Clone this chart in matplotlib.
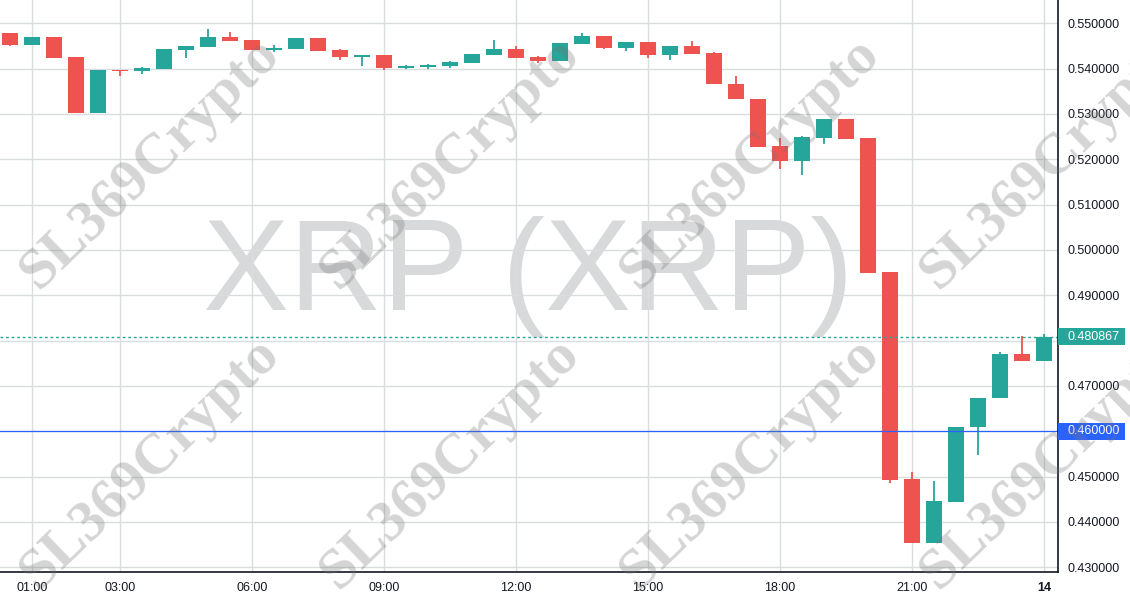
import matplotlib
matplotlib.use("Agg")
import matplotlib.pyplot as plt
from matplotlib.patches import Rectangle
from matplotlib.transforms import blended_transform_factory
import numpy as np

# ---- data (30-minute candles, 00:30 -> 24:00) ----
opens = [0.5479, 0.5453, 0.5470, 0.5426, 0.5303, 0.5397, 0.5395, 0.5399, 0.5442, 0.5448,
         0.5470, 0.5463, 0.5441, 0.5443, 0.5468, 0.5441, 0.5426, 0.5430, 0.5401, 0.5404,
         0.5406, 0.5412, 0.5430, 0.5443, 0.5426, 0.5417, 0.5454, 0.5472, 0.5446, 0.5459,
         0.5430, 0.5450, 0.5435, 0.5366, 0.5333, 0.5229, 0.5197, 0.5248, 0.5289, 0.5247,
         0.4951, 0.4495, 0.4354, 0.4445, 0.4610, 0.4674, 0.4771, 0.4756]
highs = [0.5479, 0.5470, 0.5470, 0.5426, 0.5397, 0.5397, 0.5404, 0.5443, 0.5450, 0.5487,
         0.5481, 0.5463, 0.5452, 0.5468, 0.5468, 0.5443, 0.5430, 0.5430, 0.5408, 0.5410,
         0.5417, 0.5432, 0.5463, 0.5450, 0.5428, 0.5457, 0.5479, 0.5472, 0.5459, 0.5459,
         0.5450, 0.5461, 0.5437, 0.5384, 0.5333, 0.5247, 0.5251, 0.5289, 0.5289, 0.5247,
         0.4951, 0.4511, 0.4491, 0.4610, 0.4674, 0.4776, 0.4811, 0.4815]
lows = [0.5451, 0.5453, 0.5424, 0.5303, 0.5303, 0.5384, 0.5389, 0.5399, 0.5424, 0.5448,
        0.5461, 0.5441, 0.5437, 0.5443, 0.5439, 0.5419, 0.5406, 0.5397, 0.5399, 0.5399,
        0.5401, 0.5412, 0.5430, 0.5424, 0.5412, 0.5417, 0.5454, 0.5443, 0.5439, 0.5424,
        0.5419, 0.5432, 0.5365, 0.5332, 0.5228, 0.5179, 0.5166, 0.5234, 0.5245, 0.4950,
        0.4487, 0.4354, 0.4354, 0.4445, 0.4548, 0.4674, 0.4756, 0.4756]
closes = [0.5453, 0.5470, 0.5424, 0.5303, 0.5397, 0.5395, 0.5401, 0.5443, 0.5450, 0.5470,
          0.5461, 0.5441, 0.5446, 0.5468, 0.5439, 0.5426, 0.5430, 0.5401, 0.5406, 0.5408,
          0.5415, 0.5432, 0.5443, 0.5424, 0.5417, 0.5457, 0.5472, 0.5446, 0.5459, 0.5430,
          0.5450, 0.5432, 0.5365, 0.5332, 0.5228, 0.5197, 0.5249, 0.5289, 0.5245, 0.4950,
          0.4493, 0.4354, 0.4447, 0.4610, 0.4674, 0.4771, 0.4756, 0.480867]

time_tick_idx = [1, 5, 11, 17, 23, 29, 35, 41, 47]
time_tick_labels = ["01:00", "03:00", "06:00", "09:00", "12:00", "15:00", "18:00", "21:00", "14"]
price_ticks = [0.43, 0.44, 0.45, 0.46, 0.47, 0.48, 0.49, 0.50, 0.51, 0.52, 0.53, 0.54, 0.55]
last_price = 0.480867
marker_price = 0.46
title_text = "XRP (XRP)"
watermark = "SL369Crypto"

UP = "#26a69a"
DOWN = "#ef5350"
BLUE = "#2962ff"
GRID = "#d9dde0"
AXIS = "#131722"

W, H = 1130, 600
fig = plt.figure(figsize=(W / 100, H / 100), dpi=100)
fig.patch.set_facecolor("white")
ax = fig.add_axes([0, 28 / H, 1058 / W, 1 - 28 / H])
ax.set_facecolor("white")

n = len(opens)
x = np.arange(n)
o = np.array(opens); c = np.array(closes); hi = np.array(highs); lo = np.array(lows)
cols = [UP if cc >= oo else DOWN for oo, cc in zip(o, c)]

# background big title watermark (behind grid)
ax.text(0.499, 0.458, title_text, transform=ax.transAxes, ha="center", va="baseline",
        fontsize=93, family="Liberation Sans", color="#d8d9db", zorder=0.1)

ax.vlines(x, lo, hi, colors=cols, linewidth=1.3, zorder=2)
body_bottom = np.minimum(o, c)
body_h = np.maximum(np.abs(c - o), 0.00012)
ax.bar(x, body_h, bottom=body_bottom, width=0.77, color=cols, edgecolor="none", zorder=3)

ax.set_xlim(-10 / 22, (1058 - 10) / 22)
ax.set_ylim(0.42896, 0.55514)

ax.set_xticks(time_tick_idx)
ax.set_yticks(price_ticks)
ax.grid(True, color=GRID, linewidth=1, zorder=0.5)
ax.set_axisbelow(True)
ax.tick_params(axis="x", length=0, pad=7, labelsize=9, labelcolor=AXIS)
ax.set_xticklabels(time_tick_labels, family="Liberation Sans")
for lab in ax.get_xticklabels():
    if lab.get_text() == "14":
        lab.set_fontweight("bold")
ax.yaxis.tick_right()
ax.tick_params(axis="y", length=0, pad=7.2, labelsize=9, labelcolor=AXIS)
ylabels = ["" if abs(v - last_price) < 0.004 or abs(v - marker_price) < 0.004 else f"{v:.6f}"
           for v in price_ticks]
ax.set_yticklabels(ylabels, family="Liberation Sans")

for s in ["top", "left"]:
    ax.spines[s].set_visible(False)
for s in ["right", "bottom"]:
    ax.spines[s].set_color(AXIS)
    ax.spines[s].set_linewidth(1.2)
    ax.spines[s].set_zorder(5)

# price label boxes on right axis
bt = blended_transform_factory(ax.transAxes, ax.transData)
px_per_unit = 572 / (0.55514 - 0.42896)
box_h = 17 / px_per_unit
box_w = 67 / 1058


def price_box(price, color):
    ax.add_patch(Rectangle((1.0, price - box_h / 2), box_w, box_h, transform=bt,
                           facecolor=color, edgecolor="none", clip_on=False, zorder=6))
    ax.text(1.0 + 10 / 1058, price, f"{price:.6f}", transform=bt, ha="left", va="center",
            fontsize=9, family="Liberation Sans", color="white", zorder=7, clip_on=False)


# last price line
ax.axhline(last_price, color=UP, linewidth=1, linestyle=(0, (2, 2)), zorder=4)
price_box(last_price, UP)
# horizontal marker line
ax.axhline(marker_price, color=BLUE, linewidth=0.9, zorder=4)
price_box(marker_price, BLUE)

# diagonal watermarks
for cy in (163, 463):
    for cx in (150, 450, 750, 1050):
        fig.text(cx / W, 1 - cy / H, watermark, ha="center", va="center", rotation=44,
                 rotation_mode="anchor", fontsize=42, family="Liberation Serif",
                 fontweight="bold", color=(0.45, 0.45, 0.45), alpha=0.3, zorder=10)

fig.savefig("out.png", dpi=100, facecolor="white")
